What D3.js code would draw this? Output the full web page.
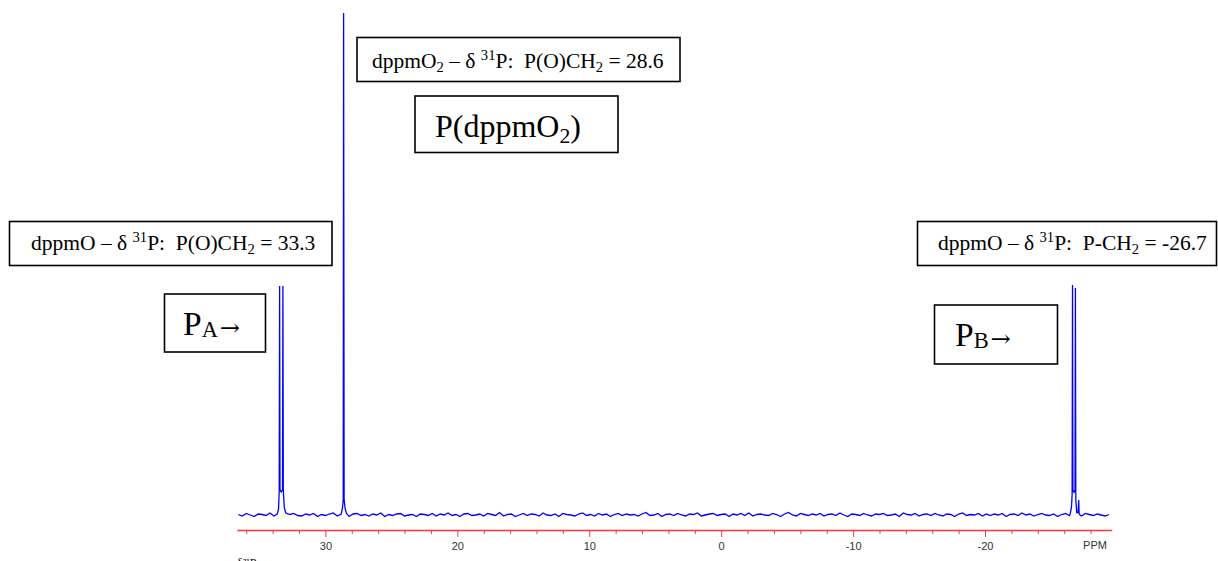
<!DOCTYPE html>
<html>
<head>
<meta charset="utf-8">
<script src="https://cdn.jsdelivr.net/npm/d3@7"></script>
<style>
  body { margin: 0; background: #fff; }
  svg { display: block; }
  .box text { font-family: "Liberation Serif", "Times New Roman", serif; fill: #000; white-space: pre; }
  .axis text { font-family: "Liberation Sans", Arial, sans-serif; font-size: 11px; fill: #333; }
</style>
</head>
<body>
<div id="spectrum"></div>
<script>
// 31P NMR spectrum, dppmO / dppmO2

// major tick positions and their labels (ppm)
var majorTicks = [30, 20, 10, 0, -10, -20];
var tickLabels = ["30", "20", "10", "0", "-10", "-20"];
var minorTicks = [36, 34, 32, 28, 26, 24, 22, 18, 16, 14, 12, 8, 6, 4, 2, -2, -4, -6, -8, -12, -14, -16, -18, -22, -24, -26, -28];

// peak shapes: [ppm, intensity]
var peakA = [[33.65, 0.2], [33.55, 1.2], [33.50, 5], [33.47, 45.6], [33.44, 5], [33.35, 4.6],
             [33.25, 5], [33.22, 45.6], [33.19, 5], [33.12, 1.5], [33.0, 0.4]];
var peakO2 = [[28.8, 0.2], [28.7, 1.5], [28.65, 3], [28.62, 100], [28.58, 3], [28.5, 1.2], [28.4, 0.3]];
var peakB = [[-26.45, 0.2], [-26.55, 1.5], [-26.6, 4], [-26.63, 45.8], [-26.66, 5], [-26.74, 4.5],
             [-26.82, 5], [-26.85, 45.2], [-26.88, 3], [-26.95, 0.5], [-27.05, 0.5], [-27.1, 3],
             [-27.13, 0.3], [-27.2, 0]];

// baseline noise, sampled every 0.3 ppm from 36.6 ppm
var noiseStart = 36.6;
var noiseStep = 0.3;
var noise = [
  0.1,-0.2,0.3,0.0,-0.3,0.2,0.1,-0.1,0.4,-0.2,
  0.0,0.2,-0.3,0.1,0.3,-0.1,-0.2,0.2,0.0,0.3,
  -0.3,0.1,-0.1,0.2,0.4,-0.2,0.1,0.0,-0.3,0.2,
  0.3,-0.1,0.1,-0.2,0.2,0.0,0.4,-0.3,0.1,-0.1,
  0.2,0.3,-0.2,0.0,0.1,-0.3,0.2,0.1,-0.1,0.3,
  -0.2,0.2,0.0,0.4,-0.1,0.1,-0.3,0.2,0.3,-0.1,
  0.0,0.2,-0.2,0.3,0.1,-0.1,0.5,-0.2,0.1,0.2,
  -0.3,0.0,0.3,-0.1,0.2,0.1,-0.2,0.4,0.0,-0.1,
  0.2,-0.3,0.3,0.1,0.0,-0.2,0.2,0.4,-0.1,0.1,
  -0.2,0.3,0.0,0.2,-0.3,0.1,0.3,-0.1,0.2,0.0,
  0.1,-0.2,0.2,0.5,-0.1,0.0,0.3,-0.3,0.1,0.2,
  -0.1,0.3,0.0,-0.2,0.2,0.1,0.4,-0.2,0.0,0.2,
  0.3,-0.1,0.1,0.2,-0.3,0.2,0.0,0.3,-0.1,0.4,
  -0.2,0.1,0.2,0.0,-0.1,0.3,0.1,-0.3,0.2,0.5,
  0.0,-0.2,0.3,0.1,-0.1,0.2,0.0,0.3,-0.2,0.1,
  0.2,-0.1,0.4,0.0,-0.3,0.2,0.1,-0.1,0.3,0.0,
  -0.2,0.2,0.1,0.3,-0.1,0.0,0.2,-0.3,0.4,0.1,
  0.0,0.3,-0.2,0.1,0.2,-0.1,0.3,0.0,-0.2,0.2,
  0.1,-0.3,0.2,0.4,-0.1,0.1,0.0,0.3,-0.2,0.2,
  -0.1,0.2,0.0,0.3,-0.3,0.1,0.2,-0.1,0.4,0.0,
  0.2,-0.2,0.1,0.3,0.0,-0.1,0.2,-0.3,0.1,0.3,
  -0.1,0.0,0.2,-0.2,0.3,0.1,-0.1,0.2,0.0,-0.2,
  0.1
];

var width = 1218;
var height = 561;

var svg = d3.select("#spectrum")
    .append("svg")
    .attr("width", width)
    .attr("height", height);

svg.append("rect").attr("width", width).attr("height", height).attr("fill", "#fff");

// ppm runs right to left
var xScale = d3.scaleLinear().domain([36.7, -29.6]).range([237, 1111.7]);
var yScale = d3.scaleLinear().domain([0, 100]).range([515, 13]);
var axisY = 530;

// put the trace together: noise outside the peak regions + peak points
var peaks = [peakA, peakO2, peakB];
var trace = [];
noise.forEach(function(v, i) {
    var ppm = noiseStart - i * noiseStep;
    var inside = peaks.some(function(p) {
        return ppm <= p[0][0] && ppm >= p[p.length - 1][0];
    });
    if (!inside) trace.push([ppm, v]);
});
peaks.forEach(function(p) { trace = trace.concat(p); });
trace.sort(function(a, b) { return b[0] - a[0]; });

var line = d3.line()
    .x(function(d) { return xScale(d[0]); })
    .y(function(d) { return yScale(d[1]); });

svg.append("path")
    .datum(trace)
    .attr("fill", "none")
    .attr("stroke", "#0000ff")
    .attr("stroke-width", 1.3)
    .attr("d", line);

// axis (red)
var xAxis = d3.axisBottom(xScale)
    .tickValues(majorTicks)
    .tickSize(7)
    .tickSizeOuter(0)
    .tickPadding(5)
    .tickFormat(function(d, i) { return tickLabels[i]; });

var axisG = svg.append("g")
    .attr("class", "axis")
    .attr("transform", "translate(0," + axisY + ")")
    .call(xAxis);
axisG.select(".domain").attr("stroke", "#ff3a3a").attr("stroke-width", 1.6);
axisG.selectAll(".tick line").attr("stroke", "#ff3a3a");

var minorAxis = d3.axisBottom(xScale)
    .tickValues(minorTicks)
    .tickSize(4)
    .tickSizeOuter(0)
    .tickFormat("");
var minorG = svg.append("g")
    .attr("class", "axis")
    .attr("transform", "translate(0," + axisY + ")")
    .call(minorAxis);
minorG.select(".domain").remove();
minorG.selectAll(".tick line").attr("stroke", "#ff3a3a");

svg.append("text")
    .attr("class", "axis")
    .attr("x", 1095)
    .attr("y", 549)
    .attr("text-anchor", "middle")
    .style("font-family", "Liberation Sans, Arial, sans-serif")
    .style("font-size", "11px")
    .style("fill", "#333")
    .text("PPM");

// label at the very bottom, cut by the edge as in the source
svg.append("text")
    .attr("x", 237)
    .attr("y", 567)
    .style("font-family", "Liberation Serif, serif")
    .style("font-size", "12px")
    .text("δ³¹P");

// annotation boxes
// parts: [text, kind, relative size, sub shift, dx, font family]
function richText(sel, x, y, size, parts) {
    var t = sel.append("text").attr("x", x).attr("y", y).style("font-size", size + "px");
    var shift = 0;
    parts.forEach(function(p) {
        var kind = p[1] || "";
        var rel = p[2] || 0.68;
        var target = kind === "sub" ? (p[3] !== undefined ? p[3] : size * 0.2) : kind === "sup" ? -size * 0.36 : 0;
        var ts = t.append("tspan")
            .attr("dy", target - shift)
            .style("font-size", (kind ? size * rel : size) + "px")
            .text(p[0]);
        if (p[4]) ts.attr("dx", p[4]);
        if (p[5]) ts.style("font-family", p[5]);
        shift = target;
    });
    return t;
}

function box(x0, y0, x1, y1) {
    var g = svg.append("g").attr("class", "box");
    g.append("rect")
        .attr("x", x0).attr("y", y0)
        .attr("width", x1 - x0).attr("height", y1 - y0)
        .attr("fill", "#fff")
        .attr("stroke", "#000")
        .attr("stroke-width", 1.6);
    return g;
}

var arrowFont = "DejaVu Serif, serif";

var b1 = box(357, 37.5, 680, 81.5);
richText(b1, 372, 68, 21.5, [["dppmO"], ["2", "sub"], [" – δ "], ["31", "sup"], ["P:  P(O)CH"], ["2", "sub"], [" = 28.6"]]);

var b2 = box(415, 96, 618, 152.5);
richText(b2, 435, 136.5, 32, [["P(dppmO"], ["2", "sub"], [")"]]);

var b3 = box(9.5, 221.5, 332, 265.5);
richText(b3, 31, 249.5, 21.5, [["dppmO – δ "], ["31", "sup"], ["P:  P(O)CH"], ["2", "sub"], [" = 33.3"]]);

var b4 = box(164.5, 294, 265.5, 352);
richText(b4, 183, 335, 33.5, [["P"], ["A", "sub", 0.67, 2], ["→", "sub", 0.72, 1, 2, arrowFont]]);

var b5 = box(917.5, 221.5, 1216.5, 265.5);
richText(b5, 938, 250, 21.5, [["dppmO – δ "], ["31", "sup"], ["P:  P-CH"], ["2", "sub"], [" = -26.7"]]);

var b6 = box(934.5, 305, 1057.5, 364);
richText(b6, 955, 346, 33.5, [["P"], ["B", "sub", 0.67, 2], ["→", "sub", 0.72, 1, 2, arrowFont]]);
</script>
</body>
</html>
